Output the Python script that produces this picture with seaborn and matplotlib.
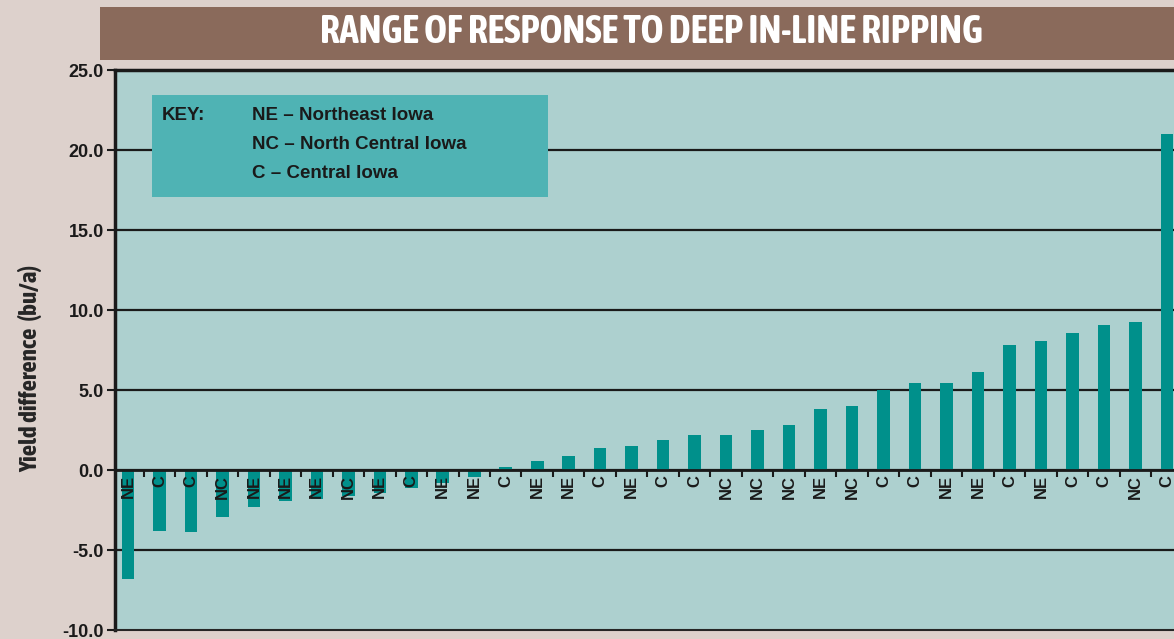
import numpy as np
import pandas as pd
import seaborn as sns
import matplotlib.pyplot as plt
from matplotlib import font_manager
from matplotlib.patches import Rectangle

# dados (diferença de rendimento, bu/a)
regions = ['NE', 'C', 'C', 'NC', 'NE', 'NE', 'NE', 'NC', 'NE', 'C', 'NE', 'NE',
           'C', 'NE', 'NE', 'C', 'NE', 'C', 'C', 'NC', 'NC', 'NC', 'NE', 'NC',
           'C', 'C', 'NE', 'NE', 'C', 'NE', 'C', 'C', 'NC', 'C']
yield_diff = [-6.8, -3.8, -3.9, -2.9, -2.3, -1.9, -1.8, -1.6, -1.4, -1.1, -0.8, -0.4,
              0.2, 0.55, 0.9, 1.4, 1.5, 1.9, 2.2, 2.2, 2.5, 2.85, 3.8, 4.0,
              5.0, 5.45, 5.45, 6.15, 7.8, 8.1, 8.55, 9.1, 9.25, 21.0]
y_ticks = [-10, -5, 0, 5, 10, 15, 20, 25]
key_lines = ['NE \u2013 Northeast Iowa', 'NC \u2013 North Central Iowa', 'C \u2013 Central Iowa']
title = 'RANGE OF RESPONSE TO DEEP IN-LINE RIPPING'

# procura uma fonte condensada para o título e o rótulo do eixo
narrow = None
for f in font_manager.fontManager.ttflist:
    if ('Narrow' in f.name or 'Condensed' in f.name) and f.weight in (700, 'bold'):
        narrow = f.name
        break
cond = [narrow or 'Liberation Sans', 'DejaVu Sans']

sns.set_style('white')
plt.rcParams['font.family'] = ['Liberation Sans', 'DejaVu Sans']
plt.rcParams['font.weight'] = 'bold'

bg = '#ddd1cc'
panel = '#add0cf'
bar_col = '#00908b'
ink = '#1a1a1a'

df = pd.DataFrame({'site': [f'{i}' for i in range(len(yield_diff))],
                   'region': regions, 'diff': yield_diff})

fig = plt.figure(figsize=(11.74, 6.39), dpi=100, facecolor=bg)
ax = fig.add_axes([0.098, 0.014, 0.912, 0.876])
ax.set_facecolor(panel)

sns.barplot(data=df, x='site', y='diff', color=bar_col, width=0.4,
            saturation=1, linewidth=0, ax=ax, zorder=3)

ax.set_xlim(-0.41, len(yield_diff) - 0.4)
ax.set_ylim(-10, 25)
ax.set_yticks(y_ticks)
ax.set_yticklabels([f'{v:.1f}' for v in y_ticks], fontsize=13, fontweight='bold')
ax.set_xticks([])
ax.set_xlabel('')
ax.set_ylabel('Yield difference  (bu/a)', fontsize=18, fontweight='bold', family=cond)
ax.yaxis.set_label_coords(-0.068, 0.468)
ax.tick_params(axis='y', direction='out', length=6, width=1.5, color=ink, pad=2,
               left=True, labelcolor=ink)

for v in y_ticks[1:-1]:
    ax.axhline(v, color=ink, lw=1.6, zorder=1)
ax.axhline(0, color=ink, lw=2, zorder=4)

for s in ['left', 'top']:
    ax.spines[s].set_linewidth(2.5)
    ax.spines[s].set_color(ink)
ax.spines['bottom'].set_linewidth(1.5)
ax.spines['right'].set_visible(False)

# marcas entre categorias sobre a linha do zero
bounds = np.arange(len(yield_diff)) + 0.5
ax.vlines(bounds, -0.4, 0, color=ink, lw=1.5, zorder=4)

for i, r in enumerate(regions):
    ax.text(i, -0.3, r, rotation=90, ha='center', va='top', fontsize=12,
            fontweight='bold', color=ink, zorder=5)

# caixa da legenda
ax.add_patch(Rectangle((152 / 1174, 1 - 197 / 639), 396 / 1174, 102 / 639,
                       transform=fig.transFigure, facecolor='#4fb3b4',
                       edgecolor='none', zorder=6))
fig.text(162 / 1174, 1 - 116 / 639, 'KEY:', fontsize=13.5, fontweight='bold',
         color=ink, va='center', zorder=7)
for k, line in enumerate(key_lines):
    fig.text(252 / 1174, 1 - (116 + 29 * k) / 639, line, fontsize=13.5,
             fontweight='bold', color=ink, va='center', zorder=7)

# faixa do título
fig.patches.append(Rectangle((100 / 1174, 1 - 60 / 639), 1.0, 53 / 639,
                             transform=fig.transFigure, facecolor='#8a6a5b',
                             edgecolor='none'))
fig.text(651 / 1174, 1 - 32 / 639, title, fontsize=28, fontweight='bold',
         color='white', ha='center', va='center', family=cond)

plt.savefig('out.png', dpi=100, facecolor=bg)
plt.close()
